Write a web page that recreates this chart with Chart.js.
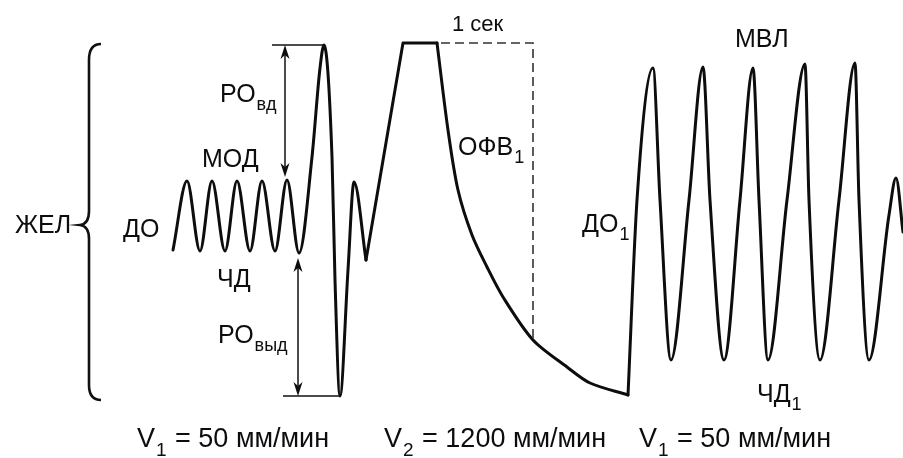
<!DOCTYPE html>
<html>
<head>
<meta charset="utf-8">
<script src="https://cdn.jsdelivr.net/npm/chart.js@4"></script>
<style>
  html, body { margin: 0; background: #fff; }
  canvas { display: block; }
</style>
</head>
<body>
<canvas id="spiro" width="903" height="458"></canvas>
<script>
// spirogram: x = tape position, v = lung volume level (0 = bottom of sheet)
const H = 458;
const tidalT = [173, 187, 200, 212, 225, 237, 250, 262, 275, 287, 299, 312, 320, 324, 332, 335, 340, 348, 354, 366];
const tidalV = [208, 277, 207, 277, 207, 277, 207, 277, 207, 278, 205, 301, 390, 413, 301, 178, 62, 188, 276, 198];
const inspT = [366, 403, 437];
const inspV = [198, 415, 415];
const fevT = [437, 448, 458, 472, 487, 503, 533, 567, 590, 628];
const fevV = [415, 328, 268, 223, 191, 161, 118, 91, 75, 63];
const mvvT = [628, 637, 653, 660, 671, 689, 703, 710, 724, 740, 753, 759, 768, 787, 805, 809, 820, 839, 855, 859, 869, 889, 896, 903];
const mvvV = [63, 258, 390, 258, 98, 258, 391, 258, 98, 258, 390, 258, 98, 258, 394, 258, 98, 258, 395, 258, 98, 243, 280, 226];

// text labels: [main, subscript, x, baseline row, size]
const labels = [
  ['ЖЕЛ', '', 15, 233, 25],
  ['ДО', '', 123, 237, 25],
  ['МОД', '', 202, 167, 25],
  ['РО', 'вд', 220, 102, 25],
  ['ЧД', '', 217, 287, 25],
  ['РО', 'выд', 218, 343, 25],
  ['1 сек', '', 452, 31, 22],
  ['ОФВ', '1', 458, 155, 25],
  ['ДО', '1', 582, 232, 25],
  ['МВЛ', '', 735, 47, 25],
  ['ЧД', '1', 757, 402, 25]
];
const speeds = [
  ['V', '1', ' = 50 мм/мин', 137],
  ['V', '2', ' = 1200 мм/мин', 384],
  ['V', '1', ' = 50 мм/мин', 639]
];

const pts = (t, v) => t.map((x, i) => ({ x, y: v[i] }));
const trace = (data, mode, tension) => ({
  data, showLine: true, pointRadius: 0, borderColor: '#0d0d0d', borderWidth: 3,
  borderJoinStyle: 'round', borderCapStyle: 'round',
  cubicInterpolationMode: mode, tension
});

const FONT = '"Liberation Sans", Arial, sans-serif';

const deco = {
  id: 'deco',
  afterDatasetsDraw(chart) {
    const { ctx, scales: { x, y } } = chart;
    const X = v => x.getPixelForValue(v), Y = r => y.getPixelForValue(H - r);
    ctx.save();
    ctx.strokeStyle = '#111';
    ctx.fillStyle = '#0d0d0d';

    // level lines for РО marks
    ctx.lineWidth = 1.5;
    [[272, 323, 45], [283, 340, 396]].forEach(([a, b, r]) => {
      ctx.beginPath(); ctx.moveTo(X(a), Y(r)); ctx.lineTo(X(b), Y(r)); ctx.stroke();
    });

    // double arrows
    const head = (px, py, dir) => {
      ctx.beginPath();
      ctx.moveTo(px, py);
      ctx.lineTo(px - 4.5, py + dir * 14);
      ctx.lineTo(px, py + dir * 10);
      ctx.lineTo(px + 4.5, py + dir * 14);
      ctx.closePath(); ctx.fill();
    };
    [[285, 45, 177], [298, 258, 396]].forEach(([ax, r1, r2]) => {
      ctx.beginPath(); ctx.moveTo(X(ax), Y(r1) + 4); ctx.lineTo(X(ax), Y(r2) - 4); ctx.stroke();
      head(X(ax), Y(r1), 1);
      head(X(ax), Y(r2), -1);
    });

    // 1 sec dashed frame
    ctx.setLineDash([9, 5]);
    ctx.lineWidth = 1.6;
    ctx.strokeStyle = '#333';
    ctx.beginPath();
    ctx.moveTo(X(441), Y(43)); ctx.lineTo(X(533), Y(43)); ctx.lineTo(X(533), Y(340));
    ctx.stroke();
    ctx.setLineDash([]);

    // brace for ЖЕЛ
    ctx.strokeStyle = '#111';
    ctx.lineWidth = 2.6;
    ctx.beginPath();
    ctx.moveTo(X(101), Y(44));
    ctx.quadraticCurveTo(X(89), Y(44), X(89), Y(60));
    ctx.lineTo(X(89), Y(211));
    ctx.quadraticCurveTo(X(89), Y(224), X(80), Y(225));
    ctx.quadraticCurveTo(X(89), Y(226), X(89), Y(239));
    ctx.lineTo(X(89), Y(385));
    ctx.quadraticCurveTo(X(89), Y(400), X(101), Y(400));
    ctx.stroke();

    // labels
    ctx.textBaseline = 'alphabetic';
    ctx.textAlign = 'left';
    labels.forEach(([main, sub, lx, r, size]) => {
      ctx.font = `${size}px ${FONT}`;
      ctx.fillText(main, X(lx), Y(r));
      if (sub) {
        const w = ctx.measureText(main).width;
        ctx.font = `${Math.round(size * 0.7)}px ${FONT}`;
        ctx.fillText(sub, X(lx) + w + 1, Y(r) + 8);
      }
    });
    speeds.forEach(([v, sub, rest, lx]) => {
      ctx.font = `27px ${FONT}`;
      ctx.fillText(v, X(lx), Y(447));
      let w = ctx.measureText(v).width;
      ctx.font = `19px ${FONT}`;
      ctx.fillText(sub, X(lx) + w + 1, Y(447) + 9);
      w += ctx.measureText(sub).width + 2;
      ctx.font = `27px ${FONT}`;
      ctx.fillText(rest, X(lx) + w, Y(447));
    });
    ctx.restore();
  }
};

new Chart(document.getElementById('spiro'), {
  type: 'scatter',
  data: {
    datasets: [
      trace(pts(tidalT, tidalV), 'monotone', 0),
      trace(pts(inspT, inspV), 'default', 0),
      trace(pts(fevT, fevV), 'default', 0.3),
      trace(pts(mvvT, mvvV), 'monotone', 0)
    ]
  },
  options: {
    responsive: false,
    animation: false,
    events: [],
    layout: { padding: 0 },
    plugins: { legend: { display: false }, tooltip: { enabled: false } },
    scales: {
      x: { type: 'linear', min: 0, max: 903, display: false },
      y: { type: 'linear', min: 0, max: H, display: false }
    }
  },
  plugins: [deco]
});
</script>
</body>
</html>
